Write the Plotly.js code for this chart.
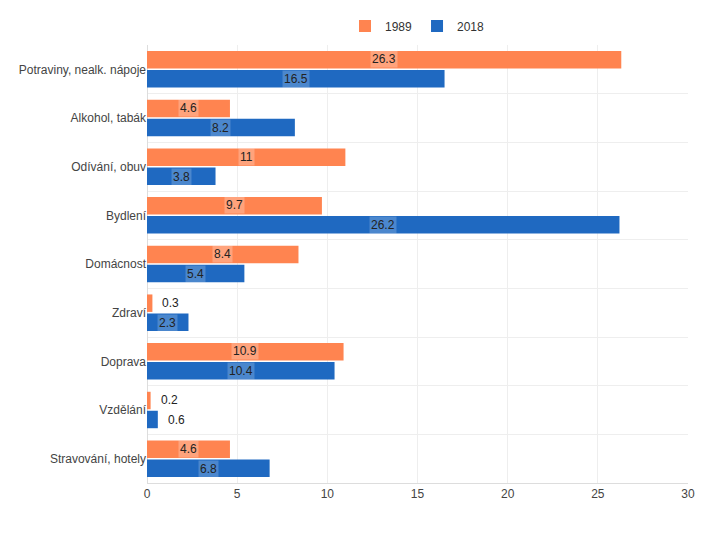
<!DOCTYPE html>
<html><head><meta charset="utf-8">
<script src="https://cdn.plot.ly/plotly-3.0.1.min.js"></script>
<style>body{margin:0}#chart{width:716px;height:538px}</style>
</head><body><div id="chart"></div>
<script>
var categories = ['Potraviny, nealk. nápoje','Alkohol, tabák','Odívání, obuv','Bydlení','Domácnost','Zdraví','Doprava','Vzdělání','Stravování, hotely'];
var v1989 = [26.3, 4.6, 11, 9.7, 8.4, 0.3, 10.9, 0.2, 4.6];
var v2018 = [16.5, 8.2, 3.8, 26.2, 5.4, 2.3, 10.4, 0.6, 6.8];

var annots = [];
function addLabels(vals, shift, bg) {
  vals.forEach(function(v, i){
    var inside = v >= 2;
    annots.push({
      x: inside ? v/2 : v, y: categories[i], xref:'x', yref:'y',
      text: String(v), showarrow:false, yshift: shift,
      xanchor: inside ? 'center' : 'left', xshift: inside ? 0 : 8,
      bgcolor: inside ? bg : 'rgba(0,0,0,0)', borderpad: 1,
      font:{family:'Arial, Liberation Sans', size:12, color:'#222'}
    });
  });
}
addLabels(v1989, 10, 'rgba(255,255,255,0.25)');
addLabels(v2018, -10, 'rgba(255,255,255,0.2)');

var data = [
  {type:'bar', orientation:'h', name:'1989', y:categories, x:v1989, marker:{color:'#ff8450'}, hoverinfo:'none'},
  {type:'bar', orientation:'h', name:'2018', y:categories, x:v2018, marker:{color:'#1f69c1'}, hoverinfo:'none'}
];
var layout = {
  width:716, height:538,
  margin:{l:147, r:28, t:45, b:55},
  barmode:'group', bargap:0.22, bargroupgap:0.08,
  font:{family:'Arial, Liberation Sans', size:12, color:'#444'},
  legend:{orientation:'h', x:0.5, xanchor:'center', y:1.01, yanchor:'bottom', font:{size:12, color:'#333'}},
  xaxis:{range:[0,30], dtick:5, showgrid:true, gridcolor:'#eeeeee', zeroline:true, zerolinecolor:'#ddd', showline:true, linecolor:'#ddd', ticks:'', fixedrange:true},
  yaxis:{autorange:'reversed', showgrid:true, gridcolor:'#eeeeee', tickson:'boundaries', ticks:'', ticklen:0, automargin:false},
  annotations: annots,
  plot_bgcolor:'#fff', paper_bgcolor:'#fff'
};
Plotly.newPlot('chart', data, layout, {staticPlot:true});
</script></body></html>
